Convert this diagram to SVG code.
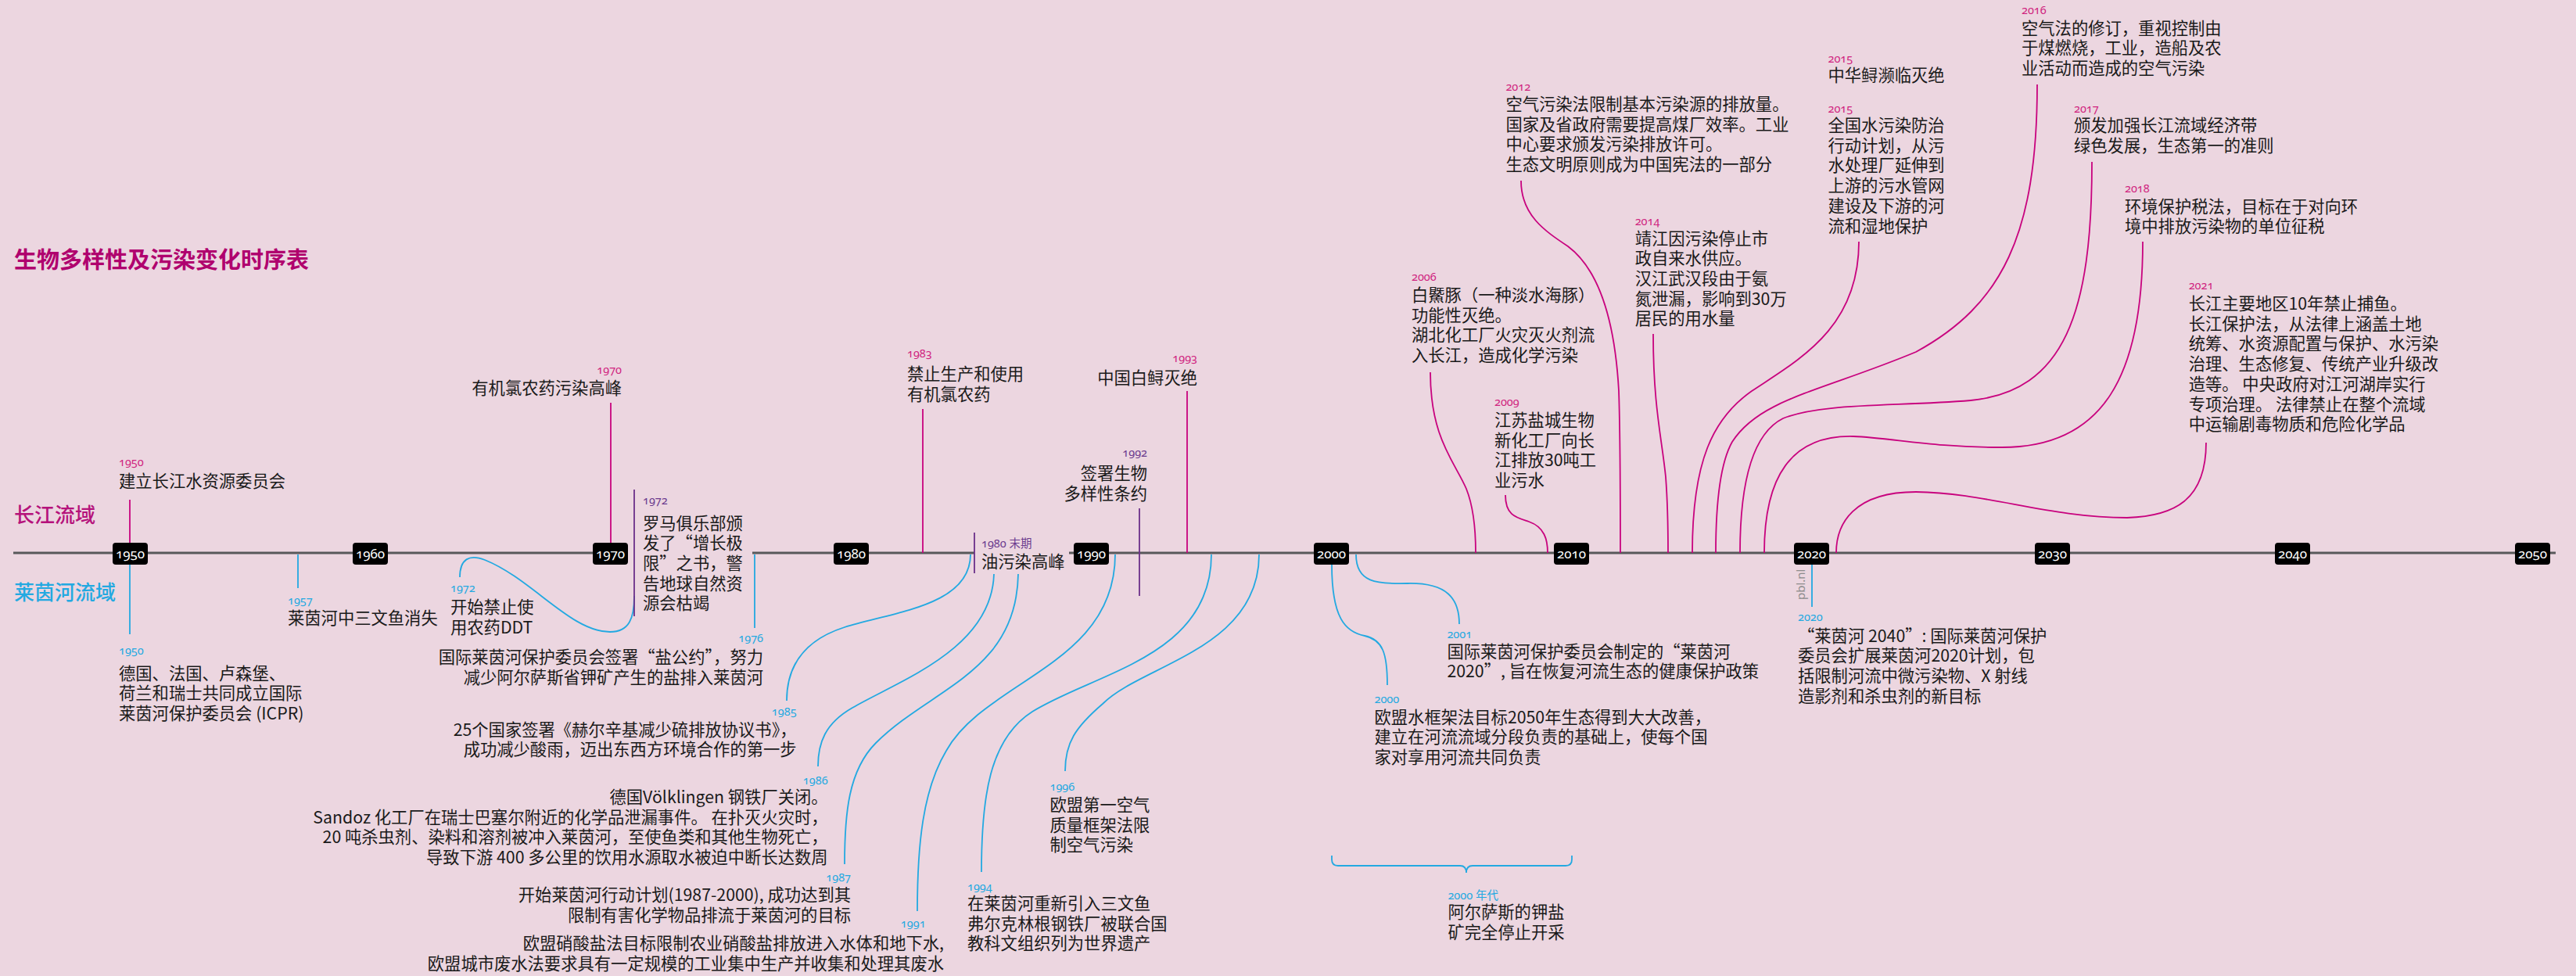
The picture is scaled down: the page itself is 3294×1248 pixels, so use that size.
<svg xmlns="http://www.w3.org/2000/svg" width="3294" height="1248" viewBox="0 0 3294 1248">
<defs>
<style>
.t{font-family:"Noto Sans CJK SC","Noto Sans",sans-serif;font-size:21.3px;fill:#1a1a1a}
.e{text-anchor:end}
.yr{font-family:"Noto Sans","Noto Sans CJK SC",sans-serif;font-size:14.5px;font-variant-numeric:oldstyle-nums}
.ym{fill:#d0247f}
.yc{fill:#23a9e1}
.yp{fill:#6b3a8e}
.lm{fill:none;stroke:#c8037e;stroke-width:1.8}
.lc{fill:none;stroke:#23a9e1;stroke-width:1.8}
.lp{fill:none;stroke:#6b2f8a;stroke-width:1.8}
.box{fill:#000}
.bt{font-family:"Noto Sans",sans-serif;font-size:17px;fill:#fff;text-anchor:middle;font-variant-numeric:oldstyle-nums}
</style>
</defs>
<rect width="3294" height="1248" fill="#ecd6e0"/>
<text x="18" y="343" font-family="'Noto Sans CJK SC',sans-serif" font-size="29" font-weight="bold" fill="#b0006e">生物多样性及污染变化时序表</text>
<text x="18" y="668" font-family="'Noto Sans CJK SC',sans-serif" font-size="26" font-weight="500" fill="#b5127b">长江流域</text>
<text x="18" y="767" font-family="'Noto Sans CJK SC',sans-serif" font-size="26" font-weight="500" fill="#23a9e1">莱茵河流域</text>

<g id="axis">
<path d="M17,707 H802 M962,707 H1246 M1367,707 H3268" stroke="#58595b" stroke-width="3" fill="none"/>
<g id="ticks">
<rect class="box" x="144" y="694" width="45" height="28" rx="4"/><text class="bt" x="166.5" y="714">1950</text>
<rect class="box" x="451" y="694" width="45" height="28" rx="4"/><text class="bt" x="473.5" y="714">1960</text>
<rect class="box" x="758" y="694" width="45" height="28" rx="4"/><text class="bt" x="780.5" y="714">1970</text>
<rect class="box" x="1066" y="694" width="45" height="28" rx="4"/><text class="bt" x="1088.5" y="714">1980</text>
<rect class="box" x="1373" y="694" width="45" height="28" rx="4"/><text class="bt" x="1395.5" y="714">1990</text>
<rect class="box" x="1680" y="694" width="45" height="28" rx="4"/><text class="bt" x="1702.5" y="714">2000</text>
<rect class="box" x="1987" y="694" width="45" height="28" rx="4"/><text class="bt" x="2009.5" y="714">2010</text>
<rect class="box" x="2294" y="694" width="45" height="28" rx="4"/><text class="bt" x="2316.5" y="714">2020</text>
<rect class="box" x="2602" y="694" width="45" height="28" rx="4"/><text class="bt" x="2624.5" y="714">2030</text>
<rect class="box" x="2909" y="694" width="45" height="28" rx="4"/><text class="bt" x="2931.5" y="714">2040</text>
<rect class="box" x="3216" y="694" width="45" height="28" rx="4"/><text class="bt" x="3238.5" y="714">2050</text>
</g>
</g>

<g id="connectors">
<path class="lm" d="M166,639 V694"/>
<path class="lc" d="M166,722 V811"/>
<path class="lc" d="M381,709 V752"/>
<path class="lm" d="M781,515 V694"/>
<path class="lc" d="M588,738 C588,715 600,708 620,716 C680,740 730,808 780,808 C805,808 811,790 811,762"/>
<path class="lp" d="M811,626 V788"/>
<path class="lc" d="M965,709 V803"/>
<path class="lc" d="M1241,709 C1241,775 1140,783 1080,802 C1030,818 1006,850 1006,896"/>
<path class="lc" d="M1271,734 C1268,830 1150,870 1090,905 C1055,925 1046,950 1046,980"/>
<path class="lc" d="M1302,734 C1300,860 1190,880 1120,950 C1085,985 1080,1040 1080,1105"/>
<path class="lc" d="M1426,709 C1426,850 1260,870 1210,960 C1180,1010 1173,1080 1173,1165"/>
<path class="lp" d="M1246,681 V733"/>
<path class="lm" d="M1180,523 V707"/>
<path class="lp" d="M1457,650 V762"/>
<path class="lm" d="M1518,500 V707"/>
<path class="lc" d="M1549,709 C1549,840 1400,860 1320,910 C1265,945 1255,1020 1255,1115"/>
<path class="lc" d="M1610,709 C1610,830 1460,850 1410,900 C1375,930 1362,950 1362,986"/>
<path class="lc" d="M1703,722 C1703,790 1720,808 1745,813 C1768,818 1774,835 1774,876"/>
<path class="lc" d="M1734,709 C1734,745 1760,747 1800,746 C1850,745 1866,765 1866,798"/>
<path class="lc" d="M1703,1094 V1099 Q1703,1107 1711,1107 H1867 Q1875,1107 1875,1116 Q1875,1107 1883,1107 H2002 Q2010,1107 2010,1099 V1094"/>
<path class="lm" d="M1829,476 C1829,560 1860,590 1875,625 C1885,650 1887,680 1887,707"/>
<path class="lm" d="M1925,633 C1925,660 1940,662 1955,667 C1975,674 1979,690 1979,707"/>
<path class="lm" d="M1945,231 C1945,275 1975,295 2005,315 C2045,345 2065,410 2070,500 C2072,560 2072,640 2072,707"/>
<path class="lm" d="M2114,427 C2114,520 2125,560 2130,610 C2133,650 2133,680 2133,707"/>
<path class="lm" d="M2377,309 C2377,420 2300,460 2240,500 C2190,535 2164,590 2164,707"/>
<path class="lm" d="M2605,108 C2605,300 2560,390 2450,450 C2330,500 2250,510 2215,565 C2198,595 2194,650 2194,707"/>
<path class="lm" d="M2675,207 C2675,400 2640,500 2520,512 C2420,520 2330,515 2280,535 C2240,555 2225,620 2225,707"/>
<path class="lm" d="M2740,309 C2740,480 2690,572 2560,572 C2470,572 2420,560 2370,558 C2290,556 2256,610 2256,707"/>
<path class="lm" d="M2821,566 C2821,640 2780,660 2720,662 C2620,662 2540,630 2450,629 C2370,629 2348,670 2348,707"/>
<path class="lc" d="M2317,722 V776"/>
</g>

<g id="y1950"><text class="yr ym" x="152" y="596">1950</text><text class="t" x="152" y="623">建立长江水资源委员会</text></g>
<g id="r1950"><text class="yr yc" x="152" y="837">1950</text><text class="t"><tspan x="152" y="868.5">德国、法国、卢森堡、</tspan><tspan x="152" y="894.2">荷兰和瑞士共同成立国际</tspan><tspan x="152" y="919.9">莱茵河保护委员会 (ICPR)</tspan></text></g>
<g id="r1957"><text class="yr yc" x="368" y="773">1957</text><text class="t" x="368" y="798">莱茵河中三文鱼消失</text></g>
<g id="y1970"><text class="yr ym e" x="795" y="478">1970</text><text class="t e" x="795" y="504">有机氯农药污染高峰</text></g>
<g id="r1972"><text class="yr yc" x="576" y="757">1972</text><text class="t"><tspan x="576" y="784">开始禁止使</tspan><tspan x="576" y="809.5">用农药DDT</tspan></text></g>
<g id="g1972"><text class="yr yp" x="822" y="645">1972</text><text class="t"><tspan x="822" y="676.5">罗马俱乐部颁</tspan><tspan x="822" y="702.2">发了“增长极</tspan><tspan x="822" y="727.9">限”之书，警</tspan><tspan x="822" y="753.6">告地球自然资</tspan><tspan x="822" y="779.3">源会枯竭</tspan></text></g>
<g id="r1976"><text class="yr yc e" x="976" y="821">1976</text><text class="t e"><tspan x="976" y="848">国际莱茵河保护委员会签署“盐公约”，努力</tspan><tspan x="976" y="873.7">减少阿尔萨斯省钾矿产生的盐排入莱茵河</tspan></text></g>
<g id="r1985"><text class="yr yc e" x="1018.6" y="915">1985</text><text class="t e"><tspan x="1018.6" y="940.5">25个国家签署《赫尔辛基减少硫排放协议书》，</tspan><tspan x="1018.6" y="966.2">成功减少酸雨，迈出东西方环境合作的第一步</tspan></text></g>
<g id="r1986"><text class="yr yc e" x="1058.6" y="1003">1986</text><text class="t e"><tspan x="1058.6" y="1027">德国Völklingen 钢铁厂关闭。</tspan><tspan x="1058.6" y="1052.7">Sandoz 化工厂在瑞士巴塞尔附近的化学品泄漏事件。 在扑灭火灾时，</tspan><tspan x="1058.6" y="1078.4">20 吨杀虫剂、染料和溶剂被冲入莱茵河，至使鱼类和其他生物死亡，</tspan><tspan x="1058.6" y="1104.1">导致下游 400 多公里的饮用水源取水被迫中断长达数周</tspan></text></g>
<g id="r1987"><text class="yr yc e" x="1088" y="1127">1987</text><text class="t e"><tspan x="1088" y="1152">开始莱茵河行动计划(1987-2000), 成功达到其</tspan><tspan x="1088" y="1177.7">限制有害化学物品排流于莱茵河的目标</tspan></text></g>
<g id="r1991"><text class="yr yc e" x="1183.6" y="1186">1991</text><text class="t e"><tspan x="1207" y="1214">欧盟硝酸盐法目标限制农业硝酸盐排放进入水体和地下水,</tspan><tspan x="1207" y="1239.7">欧盟城市废水法要求具有一定规模的工业集中生产并收集和处理其废水</tspan></text></g>
<g id="g1980s"><text class="yr yp" x="1255" y="700">1980 末期</text><text class="t" x="1255" y="726">油污染高峰</text></g>
<g id="y1983"><text class="yr ym" x="1160" y="457">1983</text><text class="t"><tspan x="1160" y="486">禁止生产和使用</tspan><tspan x="1160" y="511.7">有机氯农药</tspan></text></g>
<g id="g1992"><text class="yr yp e" x="1467" y="584">1992</text><text class="t e"><tspan x="1467" y="613">签署生物</tspan><tspan x="1467" y="638.7">多样性条约</tspan></text></g>
<g id="y1993"><text class="yr ym e" x="1531" y="463">1993</text><text class="t e" x="1531" y="490.5">中国白鲟灭绝</text></g>
<g id="r1994"><text class="yr yc" x="1237" y="1139">1994</text><text class="t"><tspan x="1237" y="1163">在莱茵河重新引入三文鱼</tspan><tspan x="1237" y="1188.7">弗尔克林根钢铁厂被联合国</tspan><tspan x="1237" y="1214.4">教科文组织列为世界遗产</tspan></text></g>
<g id="r1996"><text class="yr yc" x="1342.5" y="1011">1996</text><text class="t"><tspan x="1342.5" y="1037">欧盟第一空气</tspan><tspan x="1342.5" y="1062.7">质量框架法限</tspan><tspan x="1342.5" y="1088.4">制空气污染</tspan></text></g>
<g id="r2000"><text class="yr yc" x="1757.5" y="899">2000</text><text class="t"><tspan x="1757.5" y="924.5">欧盟水框架法目标2050年生态得到大大改善，</tspan><tspan x="1757.5" y="950.2">建立在河流流域分段负责的基础上，使每个国</tspan><tspan x="1757.5" y="975.9">家对享用河流共同负责</tspan></text></g>
<g id="r2001"><text class="yr yc" x="1850.4" y="816">2001</text><text class="t"><tspan x="1850.4" y="840.5">国际莱茵河保护委员会制定的“莱茵河</tspan><tspan x="1850.4" y="866.2">2020”, 旨在恢复河流生态的健康保护政策</tspan></text></g>
<g id="r2000s"><text class="yr yc" x="1851.4" y="1150">2000 年代</text><text class="t"><tspan x="1851.4" y="1174">阿尔萨斯的钾盐</tspan><tspan x="1851.4" y="1199.7">矿完全停止开采</tspan></text></g>
<g id="y2006"><text class="yr ym" x="1805" y="359">2006</text><text class="t"><tspan x="1805" y="385">白鱀豚（一种淡水海豚）</tspan><tspan x="1805" y="410.7">功能性灭绝。</tspan><tspan x="1805" y="436.4">湖北化工厂火灾灭火剂流</tspan><tspan x="1805" y="462.1">入长江，造成化学污染</tspan></text></g>
<g id="y2009"><text class="yr ym" x="1911" y="519">2009</text><text class="t"><tspan x="1911" y="544.8">江苏盐城生物</tspan><tspan x="1911" y="570.5">新化工厂向长</tspan><tspan x="1911" y="596.2">江排放30吨工</tspan><tspan x="1911" y="621.9">业污水</tspan></text></g>
<g id="y2012"><text class="yr ym" x="1925.4" y="116">2012</text><text class="t"><tspan x="1925.4" y="141">空气污染法限制基本污染源的排放量。</tspan><tspan x="1925.4" y="166.7">国家及省政府需要提高煤厂效率。工业</tspan><tspan x="1925.4" y="192.4">中心要求颁发污染排放许可。</tspan><tspan x="1925.4" y="218.1">生态文明原则成为中国宪法的一部分</tspan></text></g>
<g id="y2014"><text class="yr ym" x="2090.7" y="288">2014</text><text class="t"><tspan x="2090.7" y="312.5">靖江因污染停止市</tspan><tspan x="2090.7" y="338.2">政自来水供应。</tspan><tspan x="2090.7" y="363.9">汉江武汉段由于氨</tspan><tspan x="2090.7" y="389.6">氮泄漏，影响到30万</tspan><tspan x="2090.7" y="415.3">居民的用水量</tspan></text></g>
<g id="y2015a"><text class="yr ym" x="2337.5" y="80">2015</text><text class="t" x="2337.5" y="104">中华鲟濒临灭绝</text></g>
<g id="y2015b"><text class="yr ym" x="2337.5" y="144">2015</text><text class="t"><tspan x="2337.5" y="168">全国水污染防治</tspan><tspan x="2337.5" y="193.7">行动计划，从污</tspan><tspan x="2337.5" y="219.4">水处理厂延伸到</tspan><tspan x="2337.5" y="245.1">上游的污水管网</tspan><tspan x="2337.5" y="270.8">建设及下游的河</tspan><tspan x="2337.5" y="296.5">流和湿地保护</tspan></text></g>
<g id="y2016"><text class="yr ym" x="2585" y="18">2016</text><text class="t"><tspan x="2585" y="43.5">空气法的修订，重视控制由</tspan><tspan x="2585" y="69.2">于煤燃烧，工业，造船及农</tspan><tspan x="2585" y="94.9">业活动而造成的空气污染</tspan></text></g>
<g id="y2017"><text class="yr ym" x="2652" y="144">2017</text><text class="t"><tspan x="2652" y="168">颁发加强长江流域经济带</tspan><tspan x="2652" y="193.7">绿色发展，生态第一的准则</tspan></text></g>
<g id="y2018"><text class="yr ym" x="2717" y="246">2018</text><text class="t"><tspan x="2717" y="271.5">环境保护税法，目标在于对向环</tspan><tspan x="2717" y="297.2">境中排放污染物的单位征税</tspan></text></g>
<g id="y2021"><text class="yr ym" x="2798.7" y="370">2021</text><text class="t"><tspan x="2798.7" y="396">长江主要地区10年禁止捕鱼。</tspan><tspan x="2798.7" y="421.7">长江保护法，从法律上涵盖土地</tspan><tspan x="2798.7" y="447.4">统筹、水资源配置与保护、水污染</tspan><tspan x="2798.7" y="473.1">治理、生态修复、传统产业升级改</tspan><tspan x="2798.7" y="498.8">造等。 中央政府对江河湖岸实行</tspan><tspan x="2798.7" y="524.5">专项治理。 法律禁止在整个流域</tspan><tspan x="2798.7" y="550.2">中运输剧毒物质和危险化学品</tspan></text></g>
<g id="r2020"><text class="yr yc" x="2299" y="794">2020</text><text class="t"><tspan x="2299" y="820.5">“莱茵河 2040”: 国际莱茵河保护</tspan><tspan x="2299" y="846.2">委员会扩展莱茵河2020计划，包</tspan><tspan x="2299" y="871.9">括限制河流中微污染物、X 射线</tspan><tspan x="2299" y="897.6">造影剂和杀虫剂的新目标</tspan></text></g>
<text transform="translate(2308,767) rotate(-90)" font-family="'Noto Sans',sans-serif" font-size="15" fill="#8c8c8c">pbl.nl</text>
</svg>
